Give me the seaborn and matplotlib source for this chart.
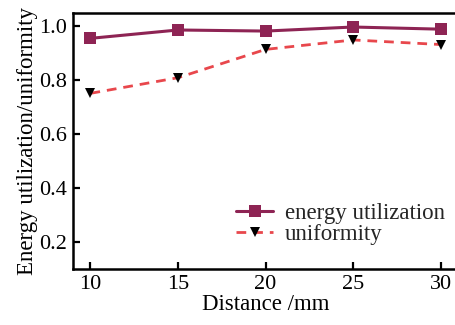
import matplotlib
matplotlib.use("Agg")
import matplotlib.pyplot as plt
import seaborn as sns
import pandas as pd

distance = [10, 15, 20, 25, 30]
energy_utilization = [0.956, 0.987, 0.983, 0.998, 0.990]
uniformity = [0.752, 0.810, 0.915, 0.950, 0.933]
x_ticks = [10, 15, 20, 25, 30]
y_ticks = [0.2, 0.4, 0.6, 0.8, 1.0]

sns.set_theme(style="ticks")
plt.rcParams['font.family'] = ['Liberation Serif', 'DejaVu Serif']

df = pd.DataFrame({"distance": distance,
                   "energy utilization": energy_utilization,
                   "uniformity": uniformity})

fig = plt.figure(figsize=(4.56, 3.25), dpi=100)
ax = fig.add_axes([0.160, 0.172, 0.845, 0.788])

sns.lineplot(data=df, x="distance", y="energy utilization", ax=ax,
             color="#8E2454", linewidth=2.2, marker="s", markersize=8,
             markeredgewidth=0, label="energy utilization")
sns.lineplot(data=df, x="distance", y="uniformity", ax=ax,
             color="#E8474C", linewidth=2.0, linestyle=(0, (3.5, 2.5)),
             marker="v", markersize=7.5, markerfacecolor="black",
             markeredgecolor="black", markeredgewidth=0, label="uniformity")

ax.set_xlim(9, 31)
ax.set_ylim(0.1, 1.05)
ax.set_xticks(x_ticks)
ax.set_yticks(y_ticks)
ax.set_xticklabels([str(v) for v in x_ticks])
ax.set_yticklabels([f"{v:.1f}" for v in y_ticks])
ax.tick_params(direction="in", length=5, width=1.6, labelsize=16,
               colors="black", pad=4)
for s in ax.spines.values():
    s.set_linewidth(1.8)
    s.set_color("black")
ax.spines["right"].set_visible(False)
ax.set_xlabel("Distance /mm", fontsize=16.5, labelpad=0, color="black")
ax.set_ylabel("Energy utilization/uniformity", fontsize=16.5, labelpad=1,
              color="black")

leg = ax.legend(loc="lower right", bbox_to_anchor=(1.0, 0.04), frameon=False,
                fontsize=16.5, handlelength=1.6, handletextpad=0.5,
                labelspacing=0.0, borderaxespad=0.2)

fig.savefig("out.png", dpi=100)
